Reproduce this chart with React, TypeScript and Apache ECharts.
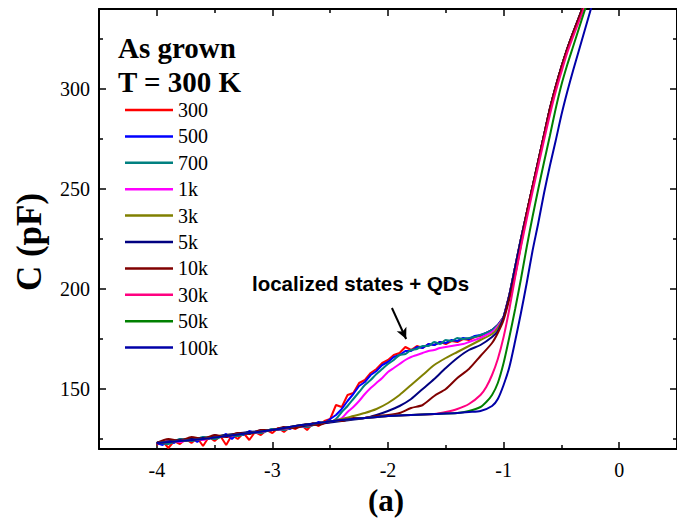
import React, { useEffect, useRef } from "react";
import * as echarts from "echarts";

// ---------- data (V in volts, C in pF) ----------
const seriesNames = ["300", "500", "700", "1k", "3k", "5k", "10k", "30k", "50k", "100k"];
const seriesColors = ["#FF0000", "#0000FF", "#008080", "#FF00FF", "#808000", "#000080", "#800000", "#FF0080", "#008000", "#0000A8"];

const xMajor = [-4, -3, -2, -1, 0];
const xMinor = [-3.5, -2.5, -1.5, -0.5];
const yMajor = [150, 200, 250, 300];
const yMinor = [125, 175, 225, 275, 325];

// shared steep part for the low-frequency group
const riseKnee = [[-1.0, 186], [-0.95, 197], [-0.9, 211], [-0.85, 225]];
const riseUpper = [[-0.8, 238], [-0.75, 251], [-0.7, 264], [-0.65, 277], [-0.6, 290], [-0.55, 301], [-0.5, 311], [-0.45, 320], [-0.4, 328], [-0.35, 335.5], [-0.3, 343]];

// shared flat baseline for the high-frequency curves
const flatBase = [[-4.0, 123], [-3.8, 124], [-3.6, 125], [-3.4, 126.5], [-3.2, 128], [-3.0, 129.5], [-2.8, 131.5], [-2.6, 133], [-2.4, 134.5], [-2.2, 135.5], [-2.0, 136.5], [-1.8, 137], [-1.6, 137.5]];

const s300 = [[-4.0, 122], [-3.95, 124], [-3.9, 120.5], [-3.85, 124], [-3.8, 122.5], [-3.75, 125], [-3.7, 123], [-3.65, 125.5], [-3.6, 121.5], [-3.55, 126], [-3.5, 124], [-3.45, 126.5], [-3.4, 122], [-3.35, 127], [-3.3, 125], [-3.25, 128], [-3.2, 124.5], [-3.15, 128.5], [-3.1, 127], [-3.05, 129.5], [-3.0, 128], [-2.95, 130.5], [-2.9, 128.5], [-2.85, 131], [-2.8, 130], [-2.75, 132], [-2.7, 129.5], [-2.65, 133], [-2.6, 131.5], [-2.55, 134], [-2.5, 135], [-2.45, 142], [-2.4, 141], [-2.35, 147], [-2.3, 148], [-2.25, 153], [-2.2, 154.5], [-2.15, 158], [-2.1, 160], [-2.05, 163], [-2.0, 164.5], [-1.95, 167], [-1.9, 168], [-1.85, 171], [-1.8, 169.5], [-1.75, 171.5], [-1.7, 170.5], [-1.65, 172.5], [-1.6, 172], [-1.55, 173.5], [-1.5, 172.5], [-1.45, 174], [-1.4, 173.5], [-1.35, 175], [-1.3, 174.5], [-1.25, 176], [-1.2, 176.5], [-1.15, 178], [-1.1, 179.5], [-1.05, 182]];
const s500 = [[-4.0, 123], [-3.95, 122], [-3.9, 124.5], [-3.85, 123], [-3.8, 125], [-3.75, 124], [-3.7, 125.5], [-3.65, 123.5], [-3.6, 126], [-3.55, 125], [-3.5, 127], [-3.45, 126], [-3.4, 127.5], [-3.35, 125], [-3.3, 128], [-3.25, 127], [-3.2, 129], [-3.15, 128], [-3.1, 129.5], [-3.05, 129], [-3.0, 130], [-2.95, 129.5], [-2.9, 131], [-2.85, 130], [-2.8, 131.5], [-2.75, 131], [-2.7, 132.5], [-2.65, 132], [-2.6, 133.5], [-2.55, 133], [-2.5, 135], [-2.45, 137], [-2.4, 140], [-2.35, 144], [-2.3, 147.5], [-2.25, 151.5], [-2.2, 153.5], [-2.15, 157], [-2.1, 159], [-2.05, 162], [-2.0, 163.5], [-1.95, 166], [-1.9, 167], [-1.85, 169], [-1.8, 169], [-1.75, 171], [-1.7, 170.5], [-1.65, 172.5], [-1.6, 172], [-1.55, 173.5], [-1.5, 173], [-1.45, 174.5], [-1.4, 174], [-1.35, 175.5], [-1.3, 175], [-1.25, 176.5], [-1.2, 177], [-1.15, 178], [-1.1, 179.5], [-1.05, 182]];
const s700 = [[-4.0, 123.5], [-3.9, 122.5], [-3.8, 125], [-3.7, 124], [-3.6, 126], [-3.5, 125], [-3.4, 127], [-3.3, 126.5], [-3.2, 128.5], [-3.1, 128], [-3.0, 130], [-2.9, 129.5], [-2.8, 131.5], [-2.7, 131], [-2.6, 133], [-2.5, 133.5], [-2.45, 135], [-2.4, 138.5], [-2.35, 141.5], [-2.3, 145], [-2.25, 148.5], [-2.2, 152], [-2.15, 154.5], [-2.1, 157.5], [-2.05, 160], [-2.0, 162.5], [-1.95, 164.5], [-1.9, 167], [-1.85, 167.5], [-1.8, 169.5], [-1.75, 170], [-1.7, 171.5], [-1.65, 171.5], [-1.6, 173.5], [-1.55, 172.5], [-1.5, 174.5], [-1.45, 174], [-1.4, 175.5], [-1.35, 175], [-1.3, 175.5], [-1.25, 176], [-1.2, 177], [-1.15, 178], [-1.1, 179.5], [-1.05, 182]];
const s1k = [[-4.0, 123], [-3.9, 124], [-3.8, 123.5], [-3.7, 125], [-3.6, 124.5], [-3.5, 126.5], [-3.4, 126], [-3.3, 127.5], [-3.2, 128], [-3.1, 128.5], [-3.0, 129.5], [-2.9, 130], [-2.8, 131], [-2.7, 131.5], [-2.6, 132.5], [-2.5, 133.5], [-2.4, 135.5], [-2.35, 138.5], [-2.3, 141], [-2.25, 144], [-2.2, 147.5], [-2.15, 150.5], [-2.1, 153], [-2.05, 155.5], [-2.0, 158.5], [-1.95, 160.5], [-1.9, 162.5], [-1.85, 164.5], [-1.8, 166], [-1.75, 167], [-1.7, 168], [-1.65, 169], [-1.6, 169.5], [-1.55, 170.5], [-1.5, 171], [-1.45, 171.5], [-1.4, 172], [-1.35, 172.5], [-1.3, 173.5], [-1.25, 174.5], [-1.2, 175.5], [-1.15, 177], [-1.1, 178.5], [-1.05, 181.5]];
const s3k = [[-4.0, 123], [-3.8, 124.5], [-3.6, 125.5], [-3.4, 127], [-3.2, 128], [-3.0, 129.5], [-2.8, 131], [-2.6, 132.5], [-2.4, 135], [-2.3, 136.5], [-2.2, 138], [-2.1, 140], [-2.0, 143], [-1.9, 147], [-1.8, 152], [-1.7, 157], [-1.6, 162], [-1.5, 165.5], [-1.4, 168.5], [-1.3, 171.5], [-1.2, 174.5], [-1.1, 177.5], [-1.05, 180.5]];
const s5k = [[-4.0, 123], [-3.8, 124.5], [-3.6, 125.5], [-3.4, 127], [-3.2, 128.5], [-3.0, 129.5], [-2.8, 131], [-2.6, 132.5], [-2.4, 134], [-2.2, 135.5], [-2.1, 137], [-2.0, 139], [-1.9, 141.5], [-1.8, 145], [-1.7, 150], [-1.6, 155], [-1.5, 160.5], [-1.4, 165.5], [-1.3, 169.5], [-1.2, 172], [-1.1, 176], [-1.05, 179]];
const s10k = [[-4.0, 123], [-3.9, 125], [-3.8, 124], [-3.7, 126], [-3.6, 125], [-3.5, 127], [-3.4, 126], [-3.3, 128], [-3.2, 127.5], [-3.1, 129.5], [-3.0, 129.5], [-2.9, 131], [-2.8, 130.5], [-2.7, 132.5], [-2.6, 132], [-2.5, 134], [-2.4, 134], [-2.3, 135.5], [-2.2, 135.5], [-2.1, 136.5], [-2.0, 137], [-1.9, 138], [-1.8, 140.5], [-1.7, 142], [-1.6, 146.5], [-1.5, 150], [-1.4, 155.5], [-1.3, 160], [-1.2, 166.5], [-1.1, 173], [-1.05, 178], [-1.0, 184.5], [-0.95, 195], [-0.9, 207], [-0.85, 222]];
const s30k = [[-1.5, 138.5], [-1.4, 140], [-1.3, 142.5], [-1.2, 147], [-1.15, 151], [-1.1, 157], [-1.05, 165], [-1.0, 176], [-0.95, 190], [-0.9, 206], [-0.85, 221], [-0.8, 235], [-0.75, 248.5], [-0.7, 261.5], [-0.65, 274.5], [-0.6, 287], [-0.55, 298.5], [-0.5, 308.5], [-0.45, 318], [-0.4, 326], [-0.35, 333.5], [-0.3, 341]];
const s50k = [[-1.4, 138], [-1.3, 139], [-1.2, 141], [-1.15, 143.5], [-1.1, 147], [-1.05, 153], [-1.0, 163], [-0.95, 176], [-0.9, 190], [-0.85, 205], [-0.8, 221], [-0.75, 236], [-0.7, 250], [-0.65, 263.5], [-0.6, 276.5], [-0.55, 290], [-0.5, 302], [-0.45, 312], [-0.4, 321], [-0.35, 330], [-0.3, 339], [-0.27, 344]];
const s100k = [[-1.4, 138], [-1.3, 138.5], [-1.2, 139], [-1.1, 141.5], [-1.05, 145], [-1.0, 152], [-0.95, 161], [-0.9, 174], [-0.85, 188], [-0.8, 203], [-0.75, 219], [-0.7, 233], [-0.65, 248], [-0.6, 261.5], [-0.55, 274], [-0.5, 287], [-0.45, 298.5], [-0.4, 309], [-0.35, 319], [-0.3, 329], [-0.25, 339], [-0.22, 345]];

const seriesData = [
  [...s300, ...riseKnee, ...riseUpper],
  [...s500, ...riseKnee, ...riseUpper],
  [...s700, ...riseKnee, ...riseUpper],
  [...s1k, ...riseKnee, ...riseUpper],
  [...s3k, ...riseKnee, ...riseUpper],
  [...s5k, ...riseKnee, ...riseUpper],
  [...s10k, ...riseUpper],
  [...flatBase, ...s30k],
  [...flatBase, ...s50k],
  [...flatBase, ...s100k],
];

// annotation arrow (data coords)
const arrowFrom = [-1.966, 190.5];
const arrowTo = [-1.843, 175];

const SERIF = "Liberation Serif";
const SANS = "Liberation Sans";

const X_RANGE = { min: -4.5, max: 0.5 };
const Y_RANGE = { min: 120, max: 340 };

function tickAxis(kind: "x" | "y", position: string, major: boolean, showLine: boolean) {
  const isX = kind === "x";
  return {
    type: "value",
    position,
    ...(isX ? X_RANGE : Y_RANGE),
    axisLine: { show: showLine, onZero: false, lineStyle: { color: "#000", width: 2 } },
    axisTick: {
      show: true,
      inside: true,
      length: major ? 7 : 4,
      lineStyle: { color: "#000", width: 1.5 },
      customValues: isX ? (major ? xMajor : xMinor) : major ? yMajor : yMinor,
    },
    axisLabel: { show: false },
    splitLine: { show: false },
  };
}

export default function App() {
  const ref = useRef<HTMLDivElement>(null);
  useEffect(() => {
    if (!ref.current) return;
    const chart = echarts.init(ref.current, undefined, { renderer: "svg" });
    const series: any[] = seriesNames.map((name, i) => ({
      name,
      type: "line",
      xAxisIndex: 0,
      yAxisIndex: 0,
      data: seriesData[i],
      showSymbol: false,
      smooth: i < 2 ? false : 0.25,
      lineStyle: { width: 2, color: seriesColors[i] },
      itemStyle: { color: seriesColors[i] },
      z: 2 + i,
    }));
    series[series.length - 1].markLine = {
      silent: true,
      symbol: ["none", "arrow"],
      symbolSize: [8, 11],
      label: { show: false },
      lineStyle: { color: "#000", width: 2, type: "solid" },
      data: [[{ coord: arrowFrom }, { coord: arrowTo }]],
    };
    chart.setOption({
      animation: false,
      backgroundColor: "#fff",
      grid: { left: 99, top: 9, width: 581.5, height: 440, containLabel: false },
      xAxis: [
        tickAxis("x", "bottom", true, true),
        tickAxis("x", "bottom", false, false),
        tickAxis("x", "top", true, true),
        tickAxis("x", "top", false, false),
      ],
      yAxis: [
        tickAxis("y", "left", true, true),
        tickAxis("y", "left", false, false),
        tickAxis("y", "right", true, true),
        tickAxis("y", "right", false, false),
      ],
      series,
    });

    // tick labels placed through the axes' own scales
    const labelFont = { fontFamily: SERIF, fontSize: 20, fill: "#000" };
    const finder = { xAxisIndex: 0, yAxisIndex: 0 };
    const xLabelEls = xMajor.map((v) => {
      const p = chart.convertToPixel(finder, [v, Y_RANGE.min]) as number[];
      return { type: "text", x: p[0], y: p[1] + 21, silent: true, style: { ...labelFont, text: String(v), align: "center", verticalAlign: "middle" } };
    });
    const yLabelEls = yMajor.map((v) => {
      const p = chart.convertToPixel(finder, [X_RANGE.min, v]) as number[];
      return { type: "text", x: p[0] - 9, y: p[1], silent: true, style: { ...labelFont, text: String(v), align: "right", verticalAlign: "middle" } };
    });

    // legend: line sample + label per series
    const legendLeft = 125;
    const legendTop = 110;
    const legendRow = 26.4;
    const legendEls: any[] = [];
    seriesNames.forEach((name, i) => {
      const y = legendTop + i * legendRow;
      legendEls.push({ type: "line", silent: true, shape: { x1: legendLeft, y1: y, x2: legendLeft + 48, y2: y }, style: { stroke: seriesColors[i], lineWidth: 2.5 } });
      legendEls.push({ type: "text", x: legendLeft + 53, y, silent: true, style: { ...labelFont, text: name, align: "left", verticalAlign: "middle" } });
    });

    chart.setOption({
      graphic: [
        { type: "text", left: 118, top: 33, style: { text: "As grown", fontFamily: SERIF, fontWeight: "bold", fontSize: 29, fill: "#000" } },
        { type: "text", left: 118, top: 67, style: { text: "T = 300 K", fontFamily: SERIF, fontWeight: "bold", fontSize: 29, fill: "#000" } },
        { type: "text", x: 29, y: 242, rotation: Math.PI / 2, style: { text: "C (pF)", fontFamily: SERIF, fontWeight: "bold", fontSize: 35, fill: "#000", align: "center", verticalAlign: "middle" } },
        { type: "text", x: 386, y: 500, style: { text: "(a)", fontFamily: SERIF, fontWeight: "bold", fontSize: 31, fill: "#000", align: "center", verticalAlign: "middle" } },
        { type: "text", x: 252, y: 283, style: { text: "localized states + QDs", fontFamily: SANS, fontWeight: "bold", fontSize: 20.5, fill: "#000", align: "left", verticalAlign: "middle" } },
        ...xLabelEls,
        ...yLabelEls,
        ...legendEls,
      ],
    });
    return () => chart.dispose();
  }, []);
  return <div ref={ref} style={{ position: "fixed", left: 0, top: 0, width: 677, height: 518 }} />;
}
